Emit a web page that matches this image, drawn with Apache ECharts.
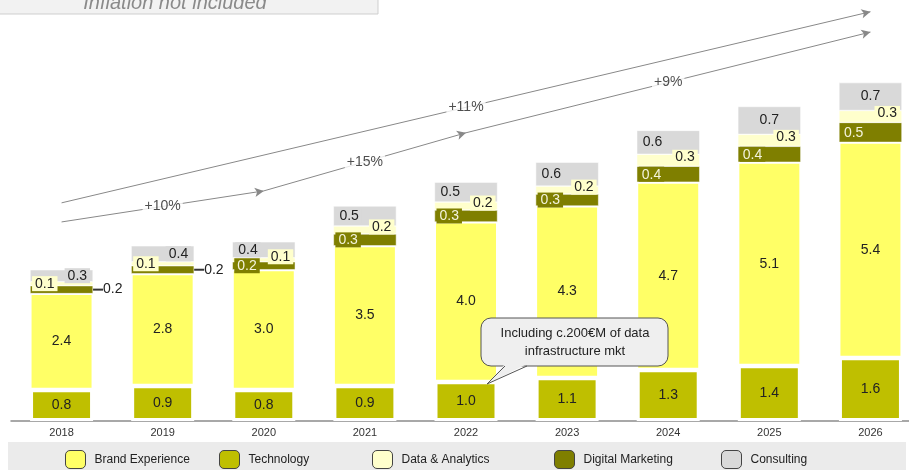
<!DOCTYPE html>
<html><head><meta charset="utf-8">
<script src="https://cdn.jsdelivr.net/npm/echarts@6/dist/echarts.min.js"></script>
<style>html,body{margin:0;padding:0;background:#fff}#c{width:909px;height:470px}</style>
</head><body><div id="c"></div>
<script>
const years = ['2018','2019','2020','2021','2022','2023','2024','2025','2026'];
const technology = [0.8,0.9,0.8,0.9,1.0,1.1,1.3,1.4,1.6];
const brandExperience = [2.4,2.8,3.0,3.5,4.0,4.3,4.7,5.1,5.4];
const digitalMarketing = [0.2,0.2,0.2,0.3,0.3,0.3,0.4,0.4,0.5];
const dataAnalytics = [0.1,0.1,0.1,0.2,0.2,0.2,0.3,0.3,0.3];
const consulting = [0.3,0.4,0.4,0.5,0.5,0.6,0.6,0.7,0.7];
const totals = [3.8,4.3,4.6,5.3,6.0,6.6,7.2,7.9,8.5];
const growthLabels = ['+10%','+15%','+9%','+11%'];
const seriesNames = ['Brand Experience','Technology','Data & Analytics','Digital Marketing','Consulting'];
const calloutText = 'Including c.200€M of data\ninfrastructure mkt';
const noteText = 'Inflation not included';

const C = {brand:'#ffff66', tech:'#bfbf00', da:'#ffffcc', dm:'#7f7f00', cons:'#d9d9d9'};
const FONT = 'Liberation Sans, Arial, sans-serif';
const fmt = p => (+p.value).toFixed(1);
const base = {fontFamily: FONT, fontSize: 14, color: '#222'};

const chart = echarts.init(document.getElementById('c'), null, {renderer:'canvas'});

const dmData = digitalMarketing.map((v,i) => i < 2
  ? {value: v, label: {position:'right', distance:0, color:'#222', padding:0}}
  : {value: v, label: {position:'insideLeft', distance:2, color:'#f4f4dc', backgroundColor:C.dm, padding:[1,3,0,3]}});
const daData = dataAnalytics.map((v,i) => i < 2
  ? {value: v, label: {position:'insideLeft', distance:2, offset:[0,0]}}
  : {value: v, label: {position:'insideRight', distance:2, offset:[0,-3]}});
const consData = consulting.map((v,i) => ({value: v, label: {
  position: i < 2 ? 'insideRight' : (i < 7 ? 'insideLeft' : 'inside'), distance: 3}}));

// growth annotations: [x category, y]
const growthPos = [['2019',5.39],['2021',6.51],['2024',8.5],['2022',7.88]];

const option = {
  animation: false,
  textStyle: {fontFamily: FONT},
  grid: {left: 11, width: 910, top: 3, height: 418, outerBoundsMode: 'none', containLabel: false},
  xAxis: {type:'category', data: years, axisTick:{show:false},
    axisLine:{lineStyle:{color:'#8c8c8c', width:1.5}},
    axisLabel:{fontSize:11, color:'#333', margin:6, fontFamily: FONT}},
  yAxis: {type:'value', min:0, max:10.5, show:false, splitLine:{show:false}},
  legend: seriesNames.map((n,i) => ({
    data:[n], left:[65,219,372,554,721][i], top:450, padding:0,
    itemWidth:20, itemHeight:18, selectedMode:false,
    itemStyle:{borderColor:'#444', borderWidth:1},
    textStyle:{fontSize:12, color:'#222', fontFamily: FONT, padding:[0,0,0,4]}
  })),
  series: [
    {name:'Technology', type:'bar', stack:'t', barWidth:63, data: technology,
     itemStyle:{color:C.tech, borderColor:'#fff', borderWidth:3},
     label:Object.assign({show:true, position:'inside', formatter:fmt}, base)},
    {name:'Brand Experience', type:'bar', stack:'t', data: brandExperience,
     itemStyle:{color:C.brand, borderColor:'#fff', borderWidth:1.5},
     label:Object.assign({show:true, position:'inside', formatter:fmt}, base)},
    {name:'Digital Marketing', type:'bar', stack:'t', data: dmData,
     itemStyle:{color:C.dm, borderColor:'#fff', borderWidth:0.5},
     label:Object.assign({show:true, formatter: p => p.dataIndex < 2 ? '{d|}' + fmt(p) : fmt(p),
       rich:{d:{width:10, height:2, backgroundColor:'#333'}}}, base)},
    {name:'Data & Analytics', type:'bar', stack:'t', data: daData,
     itemStyle:{color:C.da, borderColor:'#fff', borderWidth:0.5},
     label:Object.assign({show:true, formatter:fmt, backgroundColor:C.da, padding:[1,3,0,3]}, base)},
    {name:'Consulting', type:'bar', stack:'t', data: consData,
     itemStyle:{color:C.cons, borderColor:'#fff', borderWidth:0.5},
     label:Object.assign({show:true, formatter:fmt, backgroundColor:C.cons, padding:[1,3,0,3]}, base)},
    {name:'Total', type:'line', data: totals, symbol:'none', lineStyle:{opacity:0}, z:5,
     label:{show:true, position:'top', distance:7, formatter:fmt, fontWeight:'bold', fontSize:14, color:'#111', fontFamily: FONT}},
    {name:'Growth', type:'scatter', symbolSize:0, z:6,
     data: growthPos.map((p,i) => ({value:p, name:growthLabels[i]})),
     label:{show:true, position:'inside', formatter: p => p.name, fontSize:14, color:'#222', fontFamily: FONT,
       backgroundColor:'#fff', padding:[1,2]},
     markLine:{silent:true, symbol:['none','arrow'], symbolSize:[7,9], label:{show:false},
       lineStyle:{color:'#888', width:1, type:'solid'},
       data:[
         [{coord:['2018',5.0]},{coord:['2020',5.78]}],
         [{coord:['2020',5.78]},{coord:['2022',7.24]}],
         [{coord:['2022',7.24]},{coord:['2026',9.77]}],
         [{coord:['2018',5.48]},{coord:['2026',10.28]}]
       ]}}
  ],
  graphic: [
    {type:'rect', z:0, shape:{x:8, y:442, width:898, height:28}, style:{fill:'#ebebeb'}},
    {type:'rect', z:0, shape:{x:-2, y:-10, width:380, height:24}, style:{fill:'#f2f2f2', stroke:'#cfcfcf', lineWidth:1}},
    {type:'text', z:1, x:175, y:3, style:{text:noteText, fill:'#8a8a8a', font:'italic 20px ' + FONT, textAlign:'center', textVerticalAlign:'middle'}},
    {type:'rect', z:50, shape:{x:481, y:318, width:187, height:48, r:10}, style:{fill:'#efefef', stroke:'#555', lineWidth:1}},
    {type:'polygon', z:51, shape:{points:[[505,364],[527,364],[487,384]]}, style:{fill:'#efefef'}},
    {type:'polyline', z:52, shape:{points:[[527,366],[487,384],[505,366]]}, style:{stroke:'#555', lineWidth:1, fill:null}},
    {type:'text', z:53, x:575, y:342, style:{text:calloutText, fill:'#222', font:'13px ' + FONT, textAlign:'center', textVerticalAlign:'middle', lineHeight:18}}
  ]
};
chart.setOption(option);
</script></body></html>
